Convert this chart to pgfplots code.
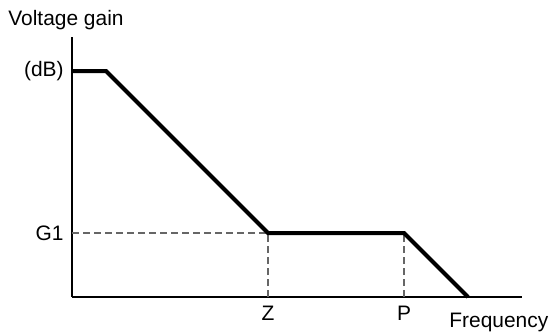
\documentclass[border=0pt]{standalone}
\usepackage{fontspec}
\setmainfont{Liberation Sans}
\usepackage{pgfplots}
\pgfplotsset{compat=1.18}

\begin{document}
\fontsize{10.5}{12}\selectfont
\begin{tikzpicture}
  % coordinates are reference pixels, y measured from the bottom
  \begin{axis}[
    scale only axis,
    width=225bp, height=130bp,
    xmin=72, xmax=522, ymin=36, ymax=296,
    axis x line*=bottom, axis y line*=left,
    axis line style={line width=0.75bp},
    xtick={268,404}, xticklabels={Z,P},
    ytick={100,262}, yticklabels={G1,(dB)},
    major tick length=0pt,
    xticklabel style={yshift=-1bp},
    yticklabel style={xshift=-0.5bp},
    clip=false]
    \addplot[black!60, line width=0.55bp, dash pattern=on 3.5bp off 2bp]
      coordinates {(72,100) (268,100)};
    \addplot[black!60, line width=0.55bp, dash pattern=on 3.5bp off 2bp]
      coordinates {(268,36) (268,100)};
    \addplot[black!60, line width=0.55bp, dash pattern=on 3.5bp off 2bp]
      coordinates {(404,36) (404,100)};
    \addplot[black, line width=2bp, line join=miter]
      coordinates {(72,262) (106,262) (268,100) (404,100) (468,36)};
    \node[anchor=west, inner sep=0pt] at (axis cs:8,313) {Voltage gain};
    \node[anchor=west, inner sep=0pt] at (axis cs:449,11) {Frequency};
    \path (axis cs:0,0) rectangle (axis cs:555,333);
  \end{axis}
\end{tikzpicture}
\end{document}
